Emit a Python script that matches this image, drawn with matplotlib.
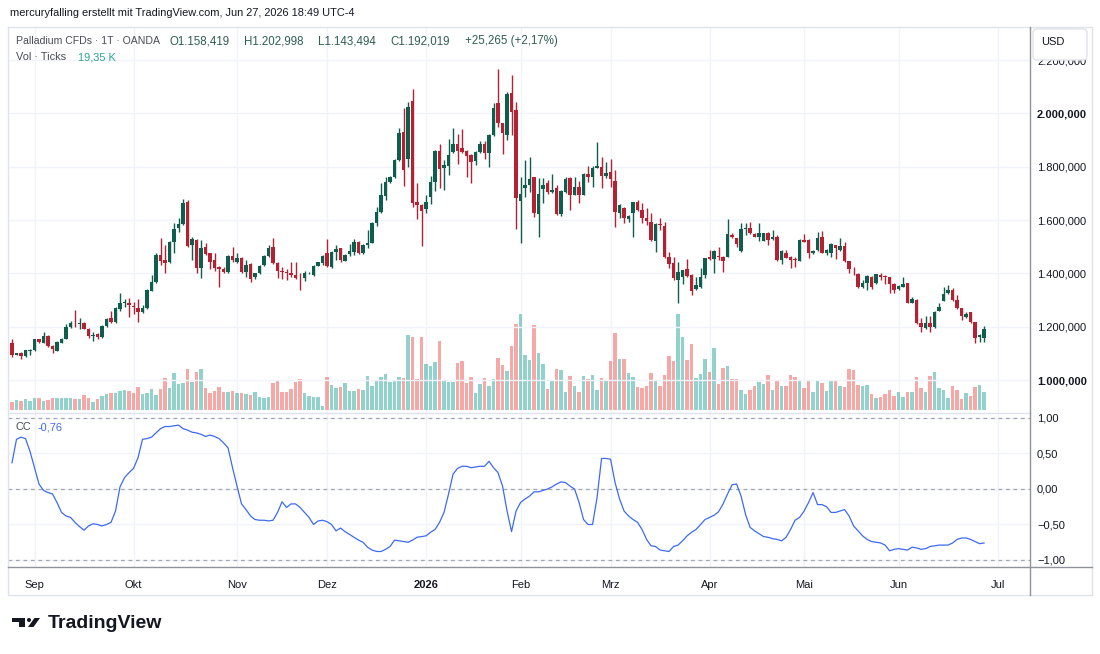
import numpy as np
import pandas as pd
import matplotlib
matplotlib.use('Agg')
import matplotlib.pyplot as plt
from matplotlib.patches import FancyBboxPatch, Polygon, Circle

plt.rcParams['font.family'] = ['Liberation Sans', 'DejaVu Sans']

# trading days (daily candles, OANDA closed on 25 Dec, 1 Jan, Good Friday)
dates = pd.bdate_range('2025-08-25', '2026-06-26')
dates = dates.drop(pd.to_datetime(['2025-12-25', '2026-01-01', '2026-04-03']))

opens = [1137.5, 1093.8, 1102.5, 1090, 1110, 1112.5, 1152.5, 1140, 1165, 1127.5,
         1110, 1140, 1155, 1197.5, 1213, 1211, 1215, 1192.5, 1166, 1172.5,
         1160, 1202.5, 1231, 1218, 1265, 1288, 1290, 1277.5, 1271, 1256,
         1269, 1335, 1369, 1469, 1450, 1444, 1519, 1569, 1585, 1666,
         1506, 1525, 1419, 1500, 1475, 1450, 1425, 1415, 1405, 1465,
         1444, 1457.5, 1405, 1435, 1385, 1400, 1431, 1465, 1497.5, 1440,
         1408, 1404, 1400, 1394, 1383, 1381, 1400, 1394, 1429, 1437.5,
         1475, 1425, 1481, 1494, 1447.5, 1472.5, 1481, 1519, 1475, 1506,
         1515, 1587.5, 1631, 1690, 1744, 1762.5, 1825, 1931, 1827.5, 2046,
         1669, 1656, 1640, 1685, 1744, 1860, 1794, 1802.5, 1856, 1885,
         1869, 1860, 1844, 1822.5, 1855, 1885, 1852.5, 1919, 2037.5, 1962.5,
         1919, 2075, 2012.5, 1672.5, 1719, 1731, 1760, 1622.5, 1717.5, 1740,
         1705, 1720, 1622.5, 1706, 1757.5, 1695, 1722.5, 1695, 1771, 1760,
         1795, 1797.5, 1765, 1781, 1747.5, 1625, 1645, 1604, 1627.5, 1667.5,
         1637.5, 1607.5, 1592.5, 1522.5, 1584, 1579, 1462.5, 1437.5, 1375, 1387.5,
         1415, 1394, 1342.5, 1347.5, 1394, 1460, 1452.5, 1463, 1462.5, 1462.5,
         1544, 1531, 1482.5, 1565, 1571, 1547.5, 1535, 1522.5, 1552.5, 1527.5,
         1537.5, 1450, 1475, 1462.5, 1451, 1447.5, 1525, 1525, 1475, 1487.5,
         1535, 1475, 1477.5, 1506, 1487.5, 1502.5, 1446, 1416, 1397.5, 1347.5,
         1365, 1387.5, 1362.5, 1394, 1388, 1385, 1360, 1340, 1350, 1362.5,
         1290, 1300, 1212.5, 1196, 1212.5, 1200, 1260, 1297.5, 1325, 1337.5,
         1300, 1269, 1235, 1254, 1216, 1160, 1158.419]

highs = [1152.5, 1102, 1104, 1114, 1115, 1154, 1155, 1181, 1167, 1130,
         1145, 1158, 1210, 1222, 1262.5, 1231, 1217, 1195, 1181, 1175,
         1205, 1232, 1260, 1275, 1325, 1302.5, 1306, 1294, 1302.5, 1281,
         1340, 1394, 1475, 1531, 1506, 1522, 1587.5, 1606, 1677.5, 1675,
         1537.5, 1528, 1525, 1515, 1478, 1475, 1428, 1425, 1467, 1497.5,
         1475, 1460, 1450, 1438, 1403, 1430, 1467, 1506, 1531, 1442,
         1422.5, 1415, 1444, 1444, 1400, 1410, 1406, 1431, 1444, 1470,
         1529, 1483, 1506, 1496, 1472, 1509, 1527.5, 1522, 1509, 1562.5,
         1594, 1650, 1740, 1762.5, 1765, 1830, 1944, 2019, 2044, 2090,
         1740, 1660, 1694, 1765, 1862, 1884, 1825, 1904, 1944, 1922.5,
         1940, 1862, 1846, 1858, 1896, 1896, 1921, 2037.5, 2165, 1965,
         2081, 2144, 2044, 1760, 1825, 1835, 1762, 1756, 1756, 1750,
         1772.5, 1731, 1711, 1762.5, 1760, 1760, 1747.5, 1775, 1802.5, 1802.5,
         1894, 1835, 1819, 1827.5, 1787.5, 1660, 1647.5, 1619, 1669, 1675,
         1662.5, 1644, 1625, 1587, 1606, 1594, 1481, 1462.5, 1444, 1414,
         1454, 1397, 1387.5, 1419, 1458, 1487.5, 1487, 1500, 1465, 1602.5,
         1550, 1533, 1587.5, 1587.5, 1594, 1550, 1590, 1552, 1555, 1562.5,
         1544, 1486, 1487.5, 1465, 1462.5, 1527, 1547.5, 1527, 1488, 1556,
         1560, 1490, 1512, 1508, 1531, 1519, 1448, 1425, 1400, 1375,
         1392, 1390, 1398, 1400, 1392, 1387, 1362, 1355, 1387.5, 1365,
         1312.5, 1302, 1231, 1240, 1240, 1258, 1290, 1350, 1356, 1344,
         1319, 1271, 1256, 1256, 1218, 1172, 1202.998]

lows = [1087.5, 1092, 1077.5, 1088, 1094, 1110, 1140, 1138, 1125, 1102.5,
        1108, 1138, 1153, 1195, 1200, 1190, 1190, 1156, 1146, 1155,
        1157, 1200, 1215, 1212, 1260, 1275, 1237.5, 1247.5, 1219, 1253,
        1265, 1332, 1365, 1431, 1400, 1440, 1478, 1556, 1580, 1498,
        1450, 1400, 1381, 1468, 1415, 1410, 1347.5, 1403, 1402, 1444,
        1440, 1402, 1387.5, 1369, 1380, 1397, 1428, 1462, 1435, 1381,
        1380, 1375, 1387.5, 1380, 1337.5, 1372.5, 1397, 1390, 1426, 1432,
        1425, 1420, 1450, 1444, 1445, 1465, 1469, 1472, 1472, 1494,
        1512, 1579, 1628, 1675, 1740, 1757, 1820, 1727.5, 1797.5, 1650,
        1602.5, 1504, 1625, 1660, 1710, 1719, 1712.5, 1769, 1852.5, 1810,
        1852, 1762.5, 1737.5, 1806, 1852, 1827.5, 1800, 1915, 1950, 1847.5,
        1900, 1919, 1565, 1515, 1687.5, 1706, 1612.5, 1537.5, 1665, 1697.5,
        1702.5, 1620, 1615, 1702.5, 1637.5, 1692, 1665, 1692, 1744, 1725,
        1794, 1719, 1756, 1725, 1575, 1606, 1590, 1594, 1537.5, 1635,
        1587.5, 1581, 1522, 1481, 1562.5, 1457.5, 1419, 1375, 1287.5, 1360,
        1387, 1319, 1337.5, 1344, 1381, 1450, 1400, 1450, 1406, 1460,
        1531, 1500, 1480, 1544, 1548, 1535, 1522.5, 1520, 1506, 1525,
        1447, 1435, 1457, 1419, 1425, 1445, 1517, 1456, 1472, 1485,
        1475, 1469, 1462.5, 1452.5, 1485, 1444, 1402.5, 1394, 1344, 1345,
        1337.5, 1340, 1360, 1375, 1360, 1327.5, 1327.5, 1337, 1347.5, 1287.5,
        1287.5, 1210, 1181, 1190, 1181, 1194, 1258, 1295, 1322, 1298,
        1266, 1225, 1232, 1212.5, 1140, 1144, 1143.494]

closes = [1093.8, 1100, 1090, 1112.5, 1112, 1152.5, 1142.5, 1165, 1127.5, 1115,
          1142.5, 1155, 1197.5, 1215, 1212, 1212, 1192.5, 1165, 1167.5, 1160,
          1202.5, 1230, 1217.5, 1268.75, 1290, 1290, 1280, 1272.5, 1256, 1269,
          1337.5, 1369, 1469, 1446, 1437.5, 1519, 1565, 1585, 1662.5, 1502.5,
          1527.5, 1419, 1496, 1471, 1444, 1419, 1415, 1406, 1465, 1450,
          1457.5, 1405, 1430, 1380, 1400, 1427.5, 1465, 1494, 1437.5, 1410,
          1406, 1402.5, 1392.5, 1384, 1381, 1400, 1401, 1429, 1441, 1465,
          1427.5, 1481, 1490, 1450, 1469, 1485, 1519, 1475, 1506, 1515,
          1590, 1630, 1694, 1744, 1760, 1825, 1927.5, 1787.5, 2025, 1665,
          1656, 1635, 1666, 1744, 1860, 1790, 1806, 1844, 1885, 1860,
          1856, 1840, 1819, 1855, 1885, 1852.5, 1919, 2019, 1965, 1927.5,
          2072.5, 2006, 1681, 1696, 1731, 1754, 1625, 1696, 1732.5, 1704,
          1714, 1622.5, 1709, 1754, 1695, 1722.5, 1692.5, 1771, 1760, 1795,
          1804, 1766, 1775, 1752.5, 1629, 1656, 1609, 1616, 1667.5, 1637.5,
          1606, 1595, 1525, 1585, 1582, 1460, 1435, 1381, 1406, 1412.5,
          1390, 1335, 1355, 1385, 1456, 1452.5, 1485, 1462, 1447.5, 1547.5,
          1537.5, 1510, 1565, 1571, 1550, 1537.5, 1550, 1550, 1525, 1537.5,
          1450, 1484, 1459, 1450, 1450, 1525, 1519, 1477.5, 1485, 1531,
          1477.5, 1487.5, 1510, 1494, 1502.5, 1446, 1415, 1415, 1350, 1365,
          1390, 1347.5, 1396, 1385, 1387, 1360, 1337.5, 1352.5, 1360, 1290,
          1302.5, 1212.5, 1197.5, 1212.5, 1200, 1256, 1272.5, 1321, 1337.5, 1300,
          1269, 1240, 1247.5, 1216, 1156, 1169, 1192.019]

# tick volume in thousands
volumes = [8.8, 10.6, 9.9, 11.3, 9.9, 13.0, 13.0, 9.9, 10.6, 12.4,
           13.0, 13.0, 13.0, 13.0, 11.3, 11.3, 15.9, 12.4, 8.8, 11.3,
           14.8, 17.0, 18.3, 17.7, 20.5, 21.2, 20.1, 17.7, 24.7, 16.6,
           17.7, 22.3, 15.9, 21.9, 33.6, 23.0, 39.5, 27.6, 28.9, 43.1,
           29.7, 40.3, 43.1, 23.0, 17.7, 20.1, 24.1, 19.4, 19.4, 19.8,
           18.3, 17.7, 17.0, 15.9, 18.8, 13.4, 12.4, 14.1, 29.0, 31.8,
           18.7, 19.4, 21.9, 30.0, 32.5, 17.7, 14.8, 13.4, 13.4, 4.2,
           35.3, 26.5, 23.0, 24.7, 28.3, 20.1, 20.1, 22.3, 21.2, 36.0,
           25.4, 31.1, 34.6, 38.2, 30.0, 31.1, 34.6, 33.6, 79.5, 77.0,
           32.5, 77.0, 48.8, 46.6, 50.9, 73.5, 31.1, 30.0, 30.0, 50.2,
           51.9, 29.0, 34.6, 18.4, 27.6, 33.6, 25.4, 32.5, 54.8, 47.7,
           41.7, 67.8, 90.8, 101.8, 58.3, 53.0, 90.1, 60.8, 48.4, 21.9,
           30.7, 43.1, 42.4, 19.4, 36.0, 25.4, 19.1, 36.0, 32.9, 37.1,
           21.2, 34.2, 31.8, 51.9, 81.3, 54.1, 54.1, 38.9, 35.3, 24.7,
           23.0, 25.4, 38.9, 31.8, 25.4, 37.1, 57.2, 51.9, 101.4, 77.7,
           53.0, 69.6, 33.6, 38.2, 54.1, 40.0, 66.0, 27.6, 44.2, 46.6,
           32.9, 32.9, 21.2, 17.0, 21.2, 25.4, 29.4, 27.6, 37.1, 21.2,
           31.8, 25.4, 25.4, 37.1, 34.6, 30.7, 23.0, 30.7, 19.1, 30.7,
           29.0, 20.1, 30.7, 30.7, 25.4, 24.7, 43.1, 42.4, 26.5, 25.8,
           26.5, 16.6, 12.4, 14.1, 16.6, 21.2, 14.8, 18.7, 14.1, 19.4,
           19.4, 35.3, 23.0, 18.7, 36.4, 40.6, 23.0, 21.2, 12.4, 25.4,
           21.2, 11.7, 18.4, 15.2, 24.7, 26.5, 19.35]

# correlation coefficient indicator
cc = [0.37, 0.70, 0.73, 0.71, 0.53, 0.30, 0.07, -0.02, -0.05, -0.07,
      -0.19, -0.33, -0.38, -0.40, -0.47, -0.53, -0.58, -0.52, -0.49, -0.50,
      -0.52, -0.50, -0.47, -0.31, 0.03, 0.16, 0.23, 0.29, 0.44, 0.70,
      0.71, 0.73, 0.79, 0.85, 0.88, 0.88, 0.89, 0.90, 0.85, 0.83,
      0.80, 0.79, 0.77, 0.74, 0.76, 0.74, 0.71, 0.65, 0.58, 0.30,
      0.04, -0.21, -0.29, -0.38, -0.43, -0.44, -0.44, -0.45, -0.44, -0.33,
      -0.18, -0.26, -0.21, -0.21, -0.26, -0.33, -0.40, -0.50, -0.45, -0.44,
      -0.46, -0.50, -0.59, -0.55, -0.60, -0.64, -0.68, -0.72, -0.75, -0.82,
      -0.86, -0.88, -0.88, -0.85, -0.81, -0.72, -0.73, -0.74, -0.75, -0.72,
      -0.68, -0.67, -0.66, -0.61, -0.57, -0.47, -0.33, -0.07, 0.21, 0.29,
      0.32, 0.32, 0.30, 0.31, 0.32, 0.32, 0.39, 0.30, 0.23, 0.04,
      -0.31, -0.60, -0.31, -0.19, -0.14, -0.10, -0.04, -0.04, -0.02, 0.00,
      0.03, 0.07, 0.10, 0.09, 0.04, 0.00, -0.19, -0.43, -0.50, -0.50,
      -0.12, 0.43, 0.43, 0.42, 0.09, -0.14, -0.31, -0.38, -0.43, -0.47,
      -0.57, -0.71, -0.80, -0.81, -0.86, -0.87, -0.88, -0.81, -0.79, -0.73,
      -0.66, -0.61, -0.57, -0.50, -0.43, -0.40, -0.37, -0.32, -0.21, -0.07,
      0.06, 0.07, -0.10, -0.36, -0.54, -0.59, -0.63, -0.67, -0.68, -0.70,
      -0.71, -0.73, -0.68, -0.57, -0.44, -0.40, -0.31, -0.19, -0.05, -0.22,
      -0.22, -0.25, -0.33, -0.33, -0.31, -0.29, -0.38, -0.52, -0.59, -0.66,
      -0.71, -0.74, -0.75, -0.76, -0.79, -0.87, -0.85, -0.84, -0.85, -0.86,
      -0.82, -0.83, -0.85, -0.84, -0.81, -0.80, -0.79, -0.79, -0.79, -0.76,
      -0.71, -0.69, -0.69, -0.71, -0.74, -0.77, -0.76]

month_names = ['Sep', 'Okt', 'Nov', 'Dez', '2026', 'Feb', 'Mrz', 'Apr', 'Mai', 'Jun', 'Jul']
price_ticks = [1000, 1200, 1400, 1600, 1800, 2000, 2200]
cc_ticks = [1.0, 0.5, 0.0, -0.5, -1.0]
change, change_pct = 25.265, 2.17

UP, DOWN = '#0f5e4d', '#b22233'
VOL_UP, VOL_DOWN = '#26a69a', '#ef5350'
GRID = '#f0f3fa'
TXT = '#131722'
BLUE = '#3d6af2'

o = np.array(opens); h = np.array(highs); l = np.array(lows); c = np.array(closes)
v = np.array(volumes)
x = np.arange(len(c))
up = c >= o

# first bar of every month (Jul lies beyond the last bar)
month_pos = [i for i in range(1, len(dates)) if dates[i].month != dates[i - 1].month]
month_pos.append(len(dates) + int(np.busday_count('2026-06-27', '2026-07-01')))


def de(num, dec):
    s = f'{num:,.{dec}f}'
    return s.replace(',', 'X').replace('.', ',').replace('X', '.').replace('-', '\u2212')


W, H = 1100, 654


def rect(x0, y0, x1, y1):
    return [x0 / W, 1 - y1 / H, (x1 - x0) / W, (y1 - y0) / H]


fig = plt.figure(figsize=(11, 6.54), dpi=100)
fig.patch.set_facecolor('white')

xlim = (-0.89, 226.2)

# volume pane sits under the price pane
axv = fig.add_axes(rect(8, 27, 1030, 413))
axv.set_xlim(*xlim)
axv.set_ylim(-3.2, 406)
axv.bar(x[up], v[up], width=0.8, color=VOL_UP, alpha=0.5, linewidth=0)
axv.bar(x[~up], v[~up], width=0.8, color=VOL_DOWN, alpha=0.5, linewidth=0)
axv.set_xticks(month_pos)
axv.grid(axis='x', color=GRID, lw=1)
axv.set_axisbelow(True)
axv.set_yticks([])
axv.tick_params(axis='x', length=0, labelbottom=False)
for s in axv.spines.values():
    s.set_visible(False)

ax = fig.add_axes(rect(8, 27, 1030, 413))
ax.patch.set_visible(False)
ax.set_xlim(*xlim)
ax.set_ylim(876.25, 2323.75)
body_lo = np.minimum(o, c)
body_h = np.maximum(np.abs(c - o), 3.0)
cols = np.where(up, UP, DOWN)
ax.vlines(x, l, h, colors=cols, lw=1.0, zorder=2)
ax.bar(x, body_h, bottom=body_lo, width=0.74, color=cols, linewidth=0, zorder=3)
ax.set_yticks(price_ticks)
ax.set_yticklabels([de(p, 3) for p in price_ticks])
ax.yaxis.tick_right()
ax.tick_params(axis='y', length=0, pad=5, labelsize=8, labelcolor=TXT)
for lab in ax.get_yticklabels():
    if lab.get_text() in ('1.000,000', '2.000,000'):
        lab.set_fontweight('bold')
ax.set_xticks([])
ax.grid(axis='y', color=GRID, lw=1, zorder=0)
for s in ax.spines.values():
    s.set_visible(False)

# correlation pane
axi = fig.add_axes(rect(8, 413, 1030, 567))
axi.set_xlim(*xlim)
axi.set_ylim(-1.0986, 1.0704)
axi.plot(x, cc, color=BLUE, lw=0.9, zorder=3)
for lvl in (1.0, 0.0, -1.0):
    axi.axhline(lvl, color='#a3a6af', lw=0.9, ls=(0, (3, 3)), zorder=2)
axi.set_yticks(cc_ticks)
axi.set_yticklabels([de(t, 2) for t in cc_ticks])
axi.yaxis.tick_right()
axi.tick_params(axis='y', length=0, pad=5, labelsize=8, labelcolor=TXT)
axi.set_xticks(month_pos)
axi.set_xticklabels(month_names)
axi.tick_params(axis='x', length=0, pad=9, labelsize=8, labelcolor=TXT)
for lab in axi.get_xticklabels():
    if lab.get_text() == '2026':
        lab.set_fontweight('bold')
axi.grid(color=GRID, lw=1, zorder=0)
axi.set_axisbelow(True)
for s in axi.spines.values():
    s.set_visible(False)

# frame, texts and logo in pixel space
ov = fig.add_axes([0, 0, 1, 1])
ov.set_xlim(0, W)
ov.set_ylim(H, 0)
ov.axis('off')
ov.plot([8, 1092, 1092, 8, 8], [27, 27, 595, 595, 27], color='#e0e3eb', lw=1)
ov.plot([8, 1030], [413, 413], color='#e0e3eb', lw=1)
ov.plot([1030, 1030], [27, 595], color='#8f929b', lw=1)
ov.plot([8, 1092], [567, 567], color='#8f929b', lw=1)
ov.add_patch(FancyBboxPatch((1033, 29), 54, 31, boxstyle='round,pad=0,rounding_size=4',
                            fc='white', ec='#e0e3eb', lw=1, zorder=5))
ov.text(1041, 42, 'USD', fontsize=8, color=TXT, va='center', zorder=6)

ov.text(10, 13, 'mercuryfalling erstellt mit TradingView.com, Jun 27, 2026 18:49 UTC-4',
        fontsize=7.9, color=TXT, va='center')
ov.text(16, 41, 'Palladium CFDs \u00b7 1T \u00b7 OANDA', fontsize=7.6, color='#4a4d57', va='center')
legend_vals = [('O', de(opens[-1], 3), 170), ('H', de(highs[-1], 3), 244),
               ('L', de(lows[-1], 3), 318), ('C', de(closes[-1], 3), 390)]
for letter, val, px in legend_vals:
    ov.text(px, 41, letter + val, fontsize=8.3, color='#2f5d53', va='center')
ov.text(465, 41, '+' + de(change, 3) + ' (+' + de(change_pct, 2) + '%)',
        fontsize=8.3, color='#2f5d53', va='center')
ov.text(16, 57, 'Vol \u00b7 Ticks', fontsize=7.9, color='#4a4d57', va='center')
ov.text(78, 57, de(volumes[-1], 2) + ' K', fontsize=7.9, color='#26a69a', va='center')
ov.text(16, 427, 'CC', fontsize=7.9, color='#4a4d57', va='center')
ov.text(38, 427, de(cc[-1], 2).replace('\u2212', '-'), fontsize=7.9, color=BLUE, va='center')

# TradingView logo
ov.add_patch(Polygon([(12, 618), (25, 618), (25, 627), (19, 627), (19, 622), (12, 622)],
                     closed=True, fc='#131722', ec='none'))
ov.add_patch(Circle((29, 620), 2.0, fc='#131722', ec='none'))
ov.add_patch(Polygon([(28, 627), (33.5, 627), (40, 618), (34.5, 618)],
                     closed=True, fc='#131722', ec='none'))
ov.text(48, 624, 'TradingView', fontsize=14, fontweight='bold', color='#131722', va='center')

fig.savefig('out.png', dpi=100, facecolor='white')
